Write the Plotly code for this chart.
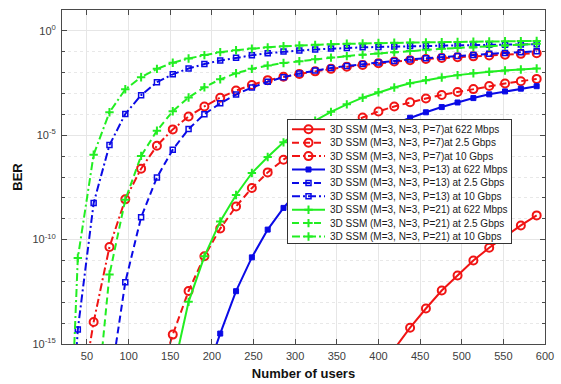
import plotly.graph_objects as go

# ---------------- data ----------------
users = [20, 39, 58, 77, 96, 115, 134, 153, 172, 191, 210, 229, 248, 267, 286, 305,
         324, 343, 362, 381, 400, 419, 438, 457, 476, 495, 514, 533, 552, 571, 590]

# log10(BER) for each series (None = far below the visible range)
p7_622 = [None]*21 + [-15.24, -14.22, -13.3, -12.44, -11.72, -11.0, -10.39, -9.85, -9.32, -8.84]
p7_2g5 = [None]*6 + [-17.0, -14.55, -12.46, -10.8, -9.47, -8.41, -7.53, -6.78, -6.17, -5.65,
                     -5.2, -4.81, -4.46, -4.15, -3.86, -3.62, -3.42, -3.24, -3.07, -2.93,
                     -2.79, -2.64, -2.52, -2.41, -2.3]
p7_10g = [None, -18.5, -13.95, -10.35, -8.07, -6.6, -5.5, -4.72, -4.1, -3.62, -3.2, -2.86,
          -2.59, -2.36, -2.2, -2.06, -1.94, -1.82, -1.72, -1.63, -1.55, -1.47, -1.41, -1.35,
          -1.3, -1.26, -1.22, -1.18, -1.14, -1.1, -1.07]
p13_622 = [None]*9 + [-16.7, -14.5, -12.47, -10.85, -9.52, -8.48, -7.6, -6.85, -6.21, -5.66,
                      -5.19, -4.79, -4.45, -4.16, -3.9, -3.65, -3.43, -3.22, -3.04, -2.9,
                      -2.77, -2.65]
p13_2g5 = [None]*3 + [-17.1, -12.04, -8.93, -7.02, -5.69, -4.7, -3.99, -3.47, -3.05, -2.71,
                      -2.44, -2.22, -2.04, -1.9, -1.78, -1.68, -1.59, -1.51, -1.44, -1.37,
                      -1.31, -1.25, -1.2, -1.15, -1.1, -1.06, -1.02, -0.98]
p13_10g = [-26.0, -14.3, -8.25, -5.47, -3.98, -3.08, -2.46, -2.08, -1.8, -1.59, -1.42, -1.29,
           -1.17, -1.07, -0.99, -0.94, -0.89, -0.85, -0.82, -0.79, -0.77, -0.75, -0.73, -0.72,
           -0.7, -0.69, -0.68, -0.67, -0.66, -0.65, -0.64]
p21_622 = [None]*7 + [-16.4, -12.98, -10.8, -9.13, -7.86, -6.81, -6.04, -5.34, -4.78, -4.3,
                      -3.88, -3.52, -3.2, -2.94, -2.71, -2.51, -2.36, -2.23, -2.12, -2.03,
                      -1.96, -1.9, -1.85, -1.8]
p21_2g5 = [None, None, -19.4, -11.67, -8.09, -5.99, -4.78, -3.85, -3.19, -2.7, -2.32, -2.03,
           -1.82, -1.66, -1.54, -1.45, -1.36, -1.28, -1.21, -1.14, -1.08, -1.02, -0.96, -0.91,
           -0.86, -0.82, -0.78, -0.74, -0.7, -0.66, -0.62]
p21_10g = [-29.6, -10.88, -5.93, -3.9, -2.8, -2.22, -1.82, -1.53, -1.32, -1.16, -1.02, -0.93,
           -0.85, -0.79, -0.74, -0.7, -0.67, -0.64, -0.62, -0.6, -0.58, -0.57, -0.56, -0.55,
           -0.54, -0.53, -0.52, -0.51, -0.5, -0.49, -0.48]

series_names = [
    "3D SSM (M=3, N=3, P=7)at 622 Mbps",
    "3D SSM (M=3, N=3, P=7)at 2.5 Gbps",
    "3D SSM (M=3, N=3, P=7)at 10 Gbps",
    "3D SSM (M=3, N=3, P=13) at 622 Mbps",
    "3D SSM (M=3, N=3, P=13) at 2.5 Gbps",
    "3D SSM (M=3, N=3, P=13) at 10 Gbps",
    "3D SSM (M=3, N=3, P=21) at 622 Mbps",
    "3D SSM (M=3, N=3, P=21) at 2.5 Gbps",
    "3D SSM (M=3, N=3, P=21) at 10 Gbps",
]
series_values = [p7_622, p7_2g5, p7_10g, p13_622, p13_2g5, p13_10g, p21_622, p21_2g5, p21_10g]

y_tick_exponents = [0, -5, -10, -15]
x_tick_values = [50, 100, 150, 200, 250, 300, 350, 400, 450, 500, 550, 600]

# ---------------- styles ----------------
RED, BLUE, GREEN = "#f01414", "#0a0ae6", "#22ee22"
DASH = "7px,4px"
DASHDOT = "8px,3px,2px,3px"
styles = [
    dict(color=RED, dash="solid", symbol="circle-open", size=8, mlw=2),
    dict(color=RED, dash=DASH, symbol="circle-open", size=8, mlw=2),
    dict(color=RED, dash=DASHDOT, symbol="circle-open", size=8, mlw=2),
    dict(color=BLUE, dash="solid", symbol="square", size=5, mlw=1),
    dict(color=BLUE, dash=DASH, symbol="square-open", size=5, mlw=1.5),
    dict(color=BLUE, dash=DASHDOT, symbol="square-open", size=5, mlw=1.5),
    dict(color=GREEN, dash="solid", symbol="cross-thin", size=6, mlw=2),
    dict(color=GREEN, dash=DASH, symbol="cross-thin", size=6, mlw=2),
    dict(color=GREEN, dash=DASHDOT, symbol="cross-thin", size=6, mlw=2),
]


def marker_of(st):
    return dict(symbol=st["symbol"], size=st["size"], color=st["color"],
                line=dict(color=st["color"], width=st["mlw"]))


fig = go.Figure()
for name, vals, st in zip(series_names, series_values, styles):
    ber = [None if v is None else 10 ** v for v in vals]
    fig.add_trace(go.Scatter(
        x=users, y=ber, name=name, mode="lines+markers",
        line=dict(color=st["color"], width=2, dash=st["dash"]),
        marker=marker_of(st), showlegend=False, xaxis="x", yaxis="y"))

# ---------------- hand-built compact legend (inset subplot) ----------------
L_W, L_H = 223, 123          # legend box size in px
ROW0, ROW_STEP = 9.3, 13.4   # first row centre and row spacing in px
for i, (name, st) in enumerate(zip(series_names, styles)):
    yc = ROW0 + ROW_STEP * i
    fig.add_trace(go.Scatter(x=[4, 37], y=[yc, yc], mode="lines",
                             line=dict(color=st["color"], width=2, dash=st["dash"]),
                             showlegend=False, xaxis="x2", yaxis="y2", hoverinfo="skip"))
    fig.add_trace(go.Scatter(x=[20.5], y=[yc], mode="markers", marker=marker_of(st),
                             showlegend=False, xaxis="x2", yaxis="y2", hoverinfo="skip"))
    fig.add_annotation(x=40, y=yc, xref="x2", yref="y2", text=name, showarrow=False,
                       xanchor="left", yanchor="middle",
                       font=dict(family="Liberation Sans", size=10, color="#1a1a1a"))

W, H = 561, 384
ML, MR, MT, MB = 62, 16, 10, 40
pw, ph = W - ML - MR, H - MT - MB
leg_left, leg_top = 288, 120
x2dom = [(leg_left - ML) / pw, (leg_left + L_W - ML) / pw]
y2dom = [(H - MB - (leg_top + L_H)) / ph, (H - MB - leg_top) / ph]

AXC = "#4a4a4a"
GRID = "#e6e6e6"
tickfont = dict(family="Liberation Sans", size=11, color="#404040")

minor_exps = [e for e in range(-14, 1) if e % 5 != 0]

fig.update_layout(
    width=W, height=H,
    margin=dict(l=ML, r=MR, t=MT, b=MB),
    paper_bgcolor="white", plot_bgcolor="white",
    showlegend=False,
    xaxis=dict(
        domain=[0, 1], range=[20, 600], tickvals=x_tick_values, automargin=False,
        ticks="inside", ticklen=5, tickcolor=AXC, showline=True, linecolor=AXC,
        linewidth=1, mirror="ticks", showgrid=True, gridcolor=GRID, zeroline=False,
        tickfont=tickfont, ticklabelstandoff=2,
        title=dict(text="<b>Number of users</b>", standoff=7,
                   font=dict(family="Liberation Sans", size=13, color="#111")),
    ),
    yaxis=dict(
        domain=[0, 1], type="log", range=[-15, 1], automargin=False,
        tickvals=[10 ** e for e in y_tick_exponents],
        ticktext=["10<sup>%d</sup>" % e for e in y_tick_exponents],
        ticks="inside", ticklen=5, tickcolor=AXC, showline=True, linecolor=AXC,
        linewidth=1, mirror="ticks", showgrid=True, gridcolor=GRID, zeroline=False,
        tickfont=tickfont, ticklabelstandoff=3,
        minor=dict(tickvals=[10 ** e for e in minor_exps], ticks="inside", ticklen=3,
                   tickcolor=AXC, showgrid=True, gridcolor="#e8e8e8", griddash="dot"),
        title=dict(text="<b>BER</b>", standoff=6,
                   font=dict(family="Liberation Sans", size=13, color="#111")),
    ),
    xaxis2=dict(domain=x2dom, anchor="y2", range=[0, L_W], showline=True, mirror=True,
                linecolor="#333", linewidth=1, showticklabels=False, ticks="",
                showgrid=False, zeroline=False, fixedrange=True),
    yaxis2=dict(domain=y2dom, anchor="x2", range=[L_H, 0], showline=True, mirror=True,
                linecolor="#333", linewidth=1, showticklabels=False, ticks="",
                showgrid=False, zeroline=False, fixedrange=True),
)

fig.write_html("out.html")
